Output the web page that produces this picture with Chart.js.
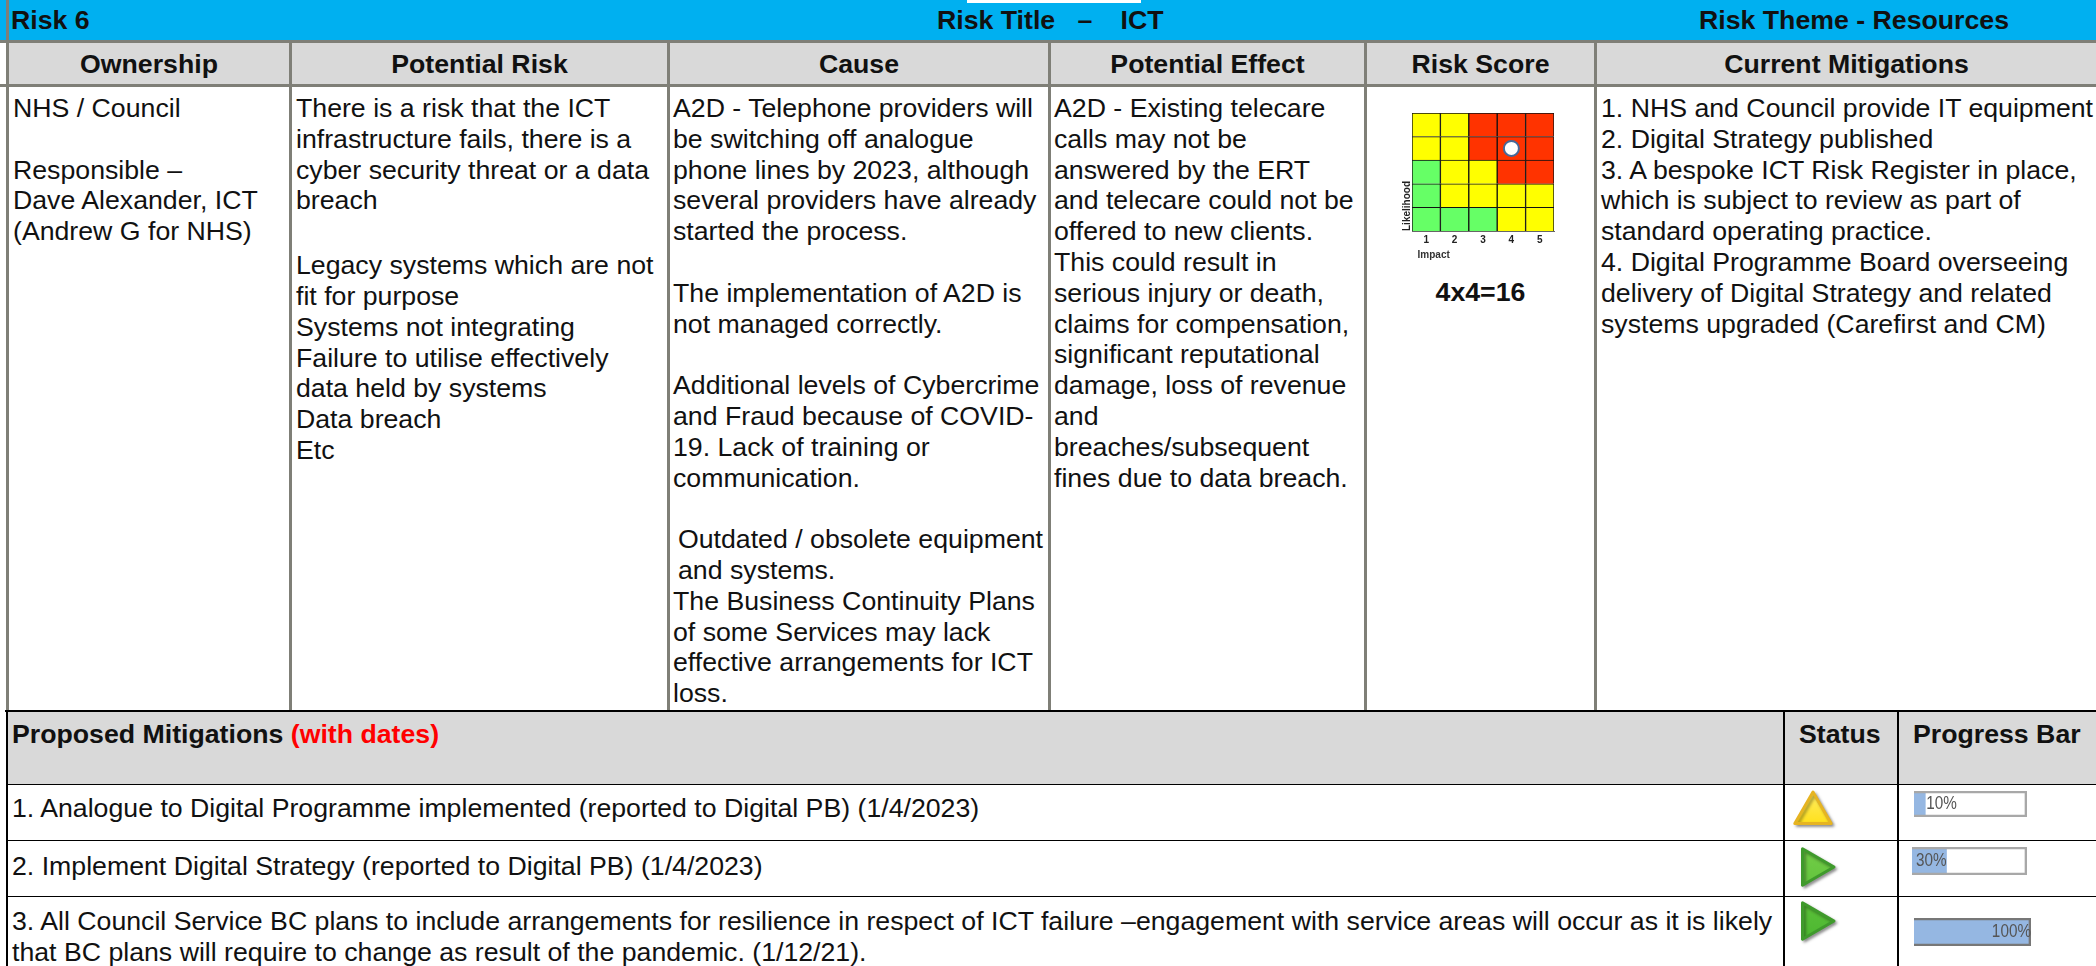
<!DOCTYPE html>
<html>

<head>
    <title>Risk 6 - ICT</title>
    <style>
        html, body { margin: 0; padding: 0; background: #fff; }
        body { position: relative; width: 2096px; height: 966px; overflow: hidden; font-family: "Liberation Sans", Arial, sans-serif; color: #111; }
        .box { position: absolute; box-sizing: border-box; }
        .txt { position: absolute; white-space: pre; font-size: 26.7px; line-height: 30.8px; }
        .b { font-weight: bold; }
        .head { position: absolute; top: 42px; height: 42px; line-height: 44px; font-size: 26.7px; font-weight: bold; text-align: center; }
        canvas { position: absolute; filter: blur(0.4px); }
    </style>
</head>

<body>
    <!-- bands -->
    <div class="box" style="left:0;top:0;width:2096px;height:41px;background:#00B0F0"></div>
    <div class="box" style="left:967px;top:0;width:174px;height:3px;background:#fff"></div>
    <div class="box" style="left:7px;top:42px;width:2089px;height:42px;background:#D9D9D9"></div>
    <div class="box" style="left:7px;top:711px;width:2089px;height:73px;background:#D9D9D9"></div>

    <!-- grey rules of upper table -->
    <div class="box" style="left:0;top:40px;width:2096px;height:3px;background:#7F7F77"></div>
    <div class="box" style="left:0;top:84px;width:2096px;height:3px;background:#7F7F77"></div>
    <div class="box" style="left:6px;top:0;width:3px;height:711px;background:#7F7F77"></div>
    <div class="box" style="left:289px;top:41px;width:3px;height:670px;background:#7F7F77"></div>
    <div class="box" style="left:667px;top:41px;width:3px;height:670px;background:#7F7F77"></div>
    <div class="box" style="left:1048px;top:41px;width:3px;height:670px;background:#7F7F77"></div>
    <div class="box" style="left:1364px;top:41px;width:3px;height:670px;background:#7F7F77"></div>
    <div class="box" style="left:1594px;top:41px;width:3px;height:670px;background:#7F7F77"></div>

    <!-- black rules of lower table -->
    <div class="box" style="left:5px;top:710px;width:2091px;height:2px;background:#000"></div>
    <div class="box" style="left:7px;top:784px;width:2089px;height:1px;background:#000"></div>
    <div class="box" style="left:7px;top:840px;width:2089px;height:1px;background:#000"></div>
    <div class="box" style="left:7px;top:896px;width:2089px;height:1px;background:#000"></div>
    <div class="box" style="left:6px;top:711px;width:2px;height:255px;background:#000"></div>
    <div class="box" style="left:1783px;top:711px;width:2px;height:255px;background:#000"></div>
    <div class="box" style="left:1897px;top:711px;width:2px;height:255px;background:#000"></div>

    <!-- title band -->
    <div class="txt b" style="left:11px;top:5px">Risk 6</div>
    <div class="txt b" style="left:937px;top:5px">Risk Title   –   <span style="margin-left:6px">ICT</span></div>
    <div class="txt b" style="left:1699px;top:5px">Risk Theme - Resources</div>

    <!-- column headings -->
    <div class="head" style="left:9px;width:280px">Ownership</div>
    <div class="head" style="left:292px;width:375px">Potential Risk</div>
    <div class="head" style="left:670px;width:378px">Cause</div>
    <div class="head" style="left:1051px;width:313px">Potential Effect</div>
    <div class="head" style="left:1367px;width:227px">Risk Score</div>
    <div class="head" style="left:1597px;width:499px">Current Mitigations</div>

    <!-- upper table text -->
    <div class="txt" style="left:13px;top:93px">NHS / Council

Responsible –
Dave Alexander, ICT
(Andrew G for NHS)</div>
    <div class="txt" style="left:296px;top:93px">There is a risk that the ICT
infrastructure fails, there is a
cyber security threat or a data
breach
<span style="display:block;margin-top:34px">Legacy systems which are not
fit for purpose
Systems not integrating
Failure to utilise effectively
data held by systems
Data breach
Etc</span></div>
    <div class="txt" style="left:673px;top:93px">A2D - Telephone providers will
be switching off analogue
phone lines by 2023, although
several providers have already
started the process.

The implementation of A2D is
not managed correctly.

Additional levels of Cybercrime
and Fraud because of COVID-
19. Lack of training or
communication.

<span style="margin-left:5px">Outdated / obsolete equipment</span>
<span style="margin-left:5px">and systems.</span>
The Business Continuity Plans
of some Services may lack
effective arrangements for ICT
loss.</div>
    <div class="txt" style="left:1054px;top:93px">A2D - Existing telecare
calls may not be
answered by the ERT
and telecare could not be
offered to new clients.
This could result in
serious injury or death,
claims for compensation,
significant reputational
damage, loss of revenue
and
breaches/subsequent
fines due to data breach.</div>
    <div class="txt b" style="left:1367px;width:227px;top:277px;text-align:center">4x4=16</div>
    <div class="txt" style="left:1601px;top:93px">1. NHS and Council provide IT equipment
2. Digital Strategy published
3. A bespoke ICT Risk Register in place,
which is subject to review as part of
standard operating practice.
4. Digital Programme Board overseeing
delivery of Digital Strategy and related
systems upgraded (Carefirst and CM)</div>

    <!-- lower table text -->
    <div class="txt b" style="left:12px;top:719px">Proposed Mitigations <span style="color:#FF0000">(with dates)</span></div>
    <div class="txt b" style="left:1799px;top:719px">Status</div>
    <div class="txt b" style="left:1913px;top:719px">Progress Bar</div>
    <div class="txt" style="left:12px;top:793px">1. Analogue to Digital Programme implemented (reported to Digital PB) (1/4/2023)</div>
    <div class="txt" style="left:12px;top:851px">2. Implement Digital Strategy (reported to Digital PB) (1/4/2023)</div>
    <div class="txt" style="left:12px;top:906px">3. All Council Service BC plans to include arrangements for resilience in respect of ICT failure –engagement with service areas will occur as it is likely
that BC plans will require to change as result of the pandemic. (1/12/21).</div>

    <!-- charts -->
    <canvas id="matrix" width="162" height="156" style="left:1401px;top:105px"></canvas>
    <canvas id="status" width="100" height="162" style="left:1763px;top:786px;filter:none"></canvas>
    <canvas id="bar0" width="117" height="30" style="left:1912px;top:789px"></canvas>
    <canvas id="bar1" width="119" height="32" style="left:1910px;top:845px"></canvas>
    <canvas id="bar2" width="121" height="32" style="left:1912px;top:916px"></canvas>

    <script src="https://cdn.jsdelivr.net/npm/chart.js@4"></script>
    <script>

// risk matrix
const impactLabels = ['1', '2', '3', '4', '5'];
const cellSpan = [1, 1, 1, 1, 1];
const likelihood1 = ['low', 'low', 'low', 'mid', 'mid'];
const likelihood2 = ['low', 'mid', 'mid', 'mid', 'mid'];
const likelihood3 = ['low', 'mid', 'mid', 'high', 'high'];
const likelihood4 = ['mid', 'mid', 'high', 'high', 'high'];
const likelihood5 = ['mid', 'mid', 'high', 'high', 'high'];
const scoreImpact = '4';
const scoreLikelihood = 4;

// lower table
const statusRows = ['1', '2', '3'];
const statusValues = ['amber', 'green', 'green'];
const progressValues = [10, 30, 100];
const progressLabels = ['10%', '30%', '100%'];
const progressLabelSide = ['outside', 'inside', 'inside'];

let levelColours = { low: '#66FF66', mid: '#FFFF00', high: '#FF3300' };

Chart.defaults.animation = false;
Chart.defaults.font.family = '"Liberation Sans", Arial, sans-serif';
Chart.defaults.plugins.legend.display = false;
Chart.defaults.plugins.tooltip.enabled = false;

function makeMatrix() {
    let rows = [likelihood1, likelihood2, likelihood3, likelihood4, likelihood5];
    let datasets = rows.map(function(row) {
        return {
            type: 'bar',
            data: cellSpan,
            backgroundColor: row.map(function(d) {return levelColours[d]}),
            borderColor: '#111',
            borderWidth: 1,
            barPercentage: 1,
            categoryPercentage: 1,
            order: 2
        }
    });
    datasets.push({
        type: 'line',
        data: impactLabels.map(function(d) {return d === scoreImpact ? scoreLikelihood - 0.5 : null}),
        showLine: false,
        pointStyle: 'circle',
        pointRadius: 7.5,
        pointBackgroundColor: '#fff',
        pointBorderColor: '#46699A',
        pointBorderWidth: 2,
        order: 1
    });

    new Chart(document.getElementById('matrix'), {
        data: { labels: impactLabels, datasets: datasets },
        options: {
            responsive: false,
            layout: { padding: { top: 8, right: 9 }, autoPadding: false },
            scales: {
                x: {
                    stacked: true,
                    grid: { display: false, drawTicks: false },
                    border: { color: '#666' },
                    ticks: { color: '#222', font: { size: 10, weight: 'bold' }, padding: 3, maxRotation: 0 },
                    title: { display: true, text: '  Impact', align: 'start', color: '#333', font: { size: 10, weight: 'bold' }, padding: { top: 0, bottom: 0 } },
                    afterFit: function(s) {s.height = 30}
                },
                y: {
                    stacked: true,
                    min: 0,
                    max: 5,
                    grid: { display: false, drawTicks: false },
                    border: { color: '#666' },
                    ticks: { display: false },
                    title: { display: true, text: 'Likelihood', align: 'start', color: '#222', font: { size: 10, weight: 'bold' }, padding: { top: 0, bottom: 0 } },
                    afterFit: function(s) {s.width = 11}
                }
            }
        }
    });
}

function makeStatus() {
    let ctx = document.getElementById('status').getContext('2d');
    let amber = ctx.createLinearGradient(0, 0, 0, 50);
    amber.addColorStop(0, '#FFEE70');
    amber.addColorStop(1, '#FFDC00');
    let green = ctx.createLinearGradient(0, 50, 0, 162);
    green.addColorStop(0, '#78D04A');
    green.addColorStop(1, '#48B52E');

    // soft drop shadow and rounded corners for the icons
    let shadow = {
        id: 'shadow',
        beforeDatasetsDraw: function(chart) {
            chart.ctx.save();
            chart.ctx.lineJoin = 'round';
            chart.ctx.shadowColor = 'rgba(0,0,0,0.35)';
            chart.ctx.shadowBlur = 3;
            chart.ctx.shadowOffsetX = 2;
            chart.ctx.shadowOffsetY = 2;
        },
        afterDatasetsDraw: function(chart) {chart.ctx.restore()}
    };

    new Chart(ctx, {
        type: 'line',
        data: {
            labels: statusRows,
            datasets: [{
                data: statusRows.map(function(d) {return { x: 'status', y: d }}),
                showLine: false,
                clip: false,
                pointStyle: 'triangle',
                pointRadius: 21,
                pointRotation: statusValues.map(function(d) {return d === 'amber' ? 0 : 90}),
                pointBackgroundColor: statusValues.map(function(d) {return d === 'amber' ? amber : green}),
                pointBorderColor: statusValues.map(function(d) {return d === 'amber' ? '#E6B422' : '#3F9A2C'}),
                pointBorderWidth: 3
            }]
        },
        options: {
            responsive: false,
            layout: { autoPadding: false },
            scales: {
                x: { type: 'category', labels: ['status'], display: false, offset: true },
                y: { type: 'category', labels: statusRows, display: false, offset: true }
            }
        },
        plugins: [shadow]
    });
}

function makeProgress(i) {
    let percentLabel = {
        id: 'percentLabel',
        afterDatasetsDraw: function(chart) {
            let bar = chart.getDatasetMeta(0).data[0];
            let ctx = chart.ctx;
            ctx.save();
            ctx.font = '18px "Liberation Sans", sans-serif';
            ctx.fillStyle = '#555';
            ctx.textBaseline = 'middle';
            // the label in the source is squeezed horizontally
            let squeezed = ctx.measureText(progressLabels[i]).width * 0.85;
            if (progressLabelSide[i] === 'outside') {
                ctx.textAlign = 'left';
                ctx.fillText(progressLabels[i], bar.x + 1, bar.y, squeezed);
            } else {
                ctx.textAlign = 'right';
                ctx.fillText(progressLabels[i], bar.x, bar.y, squeezed);
            }
            ctx.restore();
        }
    };

    new Chart(document.getElementById('bar' + i), {
        type: 'bar',
        data: {
            labels: [statusRows[i]],
            datasets: [{
                data: [progressValues[i]],
                backgroundColor: '#95B7E2',
                grouped: false,
                barPercentage: 1,
                categoryPercentage: 1,
                order: 2
            }, {
                data: [100],
                backgroundColor: 'transparent',
                borderColor: progressValues[i] === 100 ? '#777' : '#A8A8A8',
                borderWidth: 2,
                grouped: false,
                barPercentage: 1,
                categoryPercentage: 1,
                order: 1
            }]
        },
        options: {
            indexAxis: 'y',
            responsive: false,
            layout: { padding: 2 },
            scales: {
                x: { min: 0, max: 100, display: false },
                y: { display: false }
            }
        },
        plugins: [percentLabel]
    });
}

makeMatrix();
makeStatus();
progressValues.forEach(function(d, i) {makeProgress(i)});

    </script>
</body>
</html>
